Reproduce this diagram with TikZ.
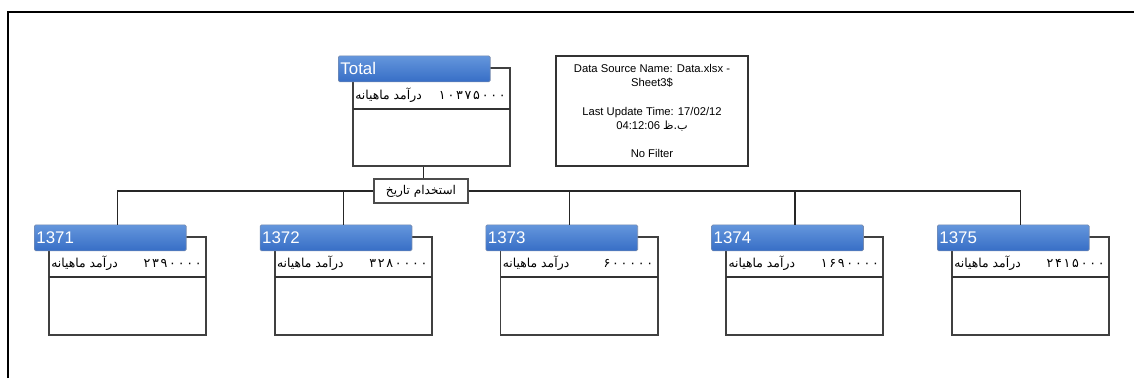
\documentclass[tikz,border=0pt]{standalone}
\usepackage{fontspec}
\setmainfont{Liberation Sans}
\newfontfamily\farsi[Script=Arabic]{DejaVu Sans}
\newfontfamily\farsinum[Script=Arabic,LetterSpace=14]{DejaVu Sans}
\TeXXeTstate=1
\usetikzlibrary{calc}
\definecolor{headtop}{RGB}{100,150,220}
\definecolor{headbot}{RGB}{55,110,198}
\definecolor{headline}{RGB}{120,140,175}

\begin{document}
\begin{tikzpicture}[x=0.025cm,y=-0.025cm,
  cardbox/.style={draw=black!75,line width=1.4pt,fill=white,anchor=north west,inner sep=0pt,
    minimum width=3.925cm,minimum height=2.45cm},
  cardhead/.style={draw=headline,line width=0.5pt,top color=headtop,bottom color=headbot,
    rounded corners=1pt,anchor=north west,inner xsep=1.5pt,inner ysep=0pt,
    text width=3.69cm,minimum height=0.65cm,align=left,text=white,font=\fontsize{12}{14}\selectfont},
  rowtext/.style={inner sep=0pt,font=\farsi\fontsize{8.8}{10}\selectfont},
  rownum/.style={inner sep=0pt,font=\farsinum\fontsize{9}{10}\selectfont},
  rowline/.style={line width=1.3pt,draw=black!80},
  link/.style={line width=1pt,draw=black!85},
  datebox/.style={draw=black!70,line width=1pt,fill=white,minimum width=2.35cm,minimum height=0.6cm,
    inner sep=0pt,font=\farsi\fontsize{8.6}{10}\selectfont},
  infobox/.style={draw=black!80,line width=1.4pt,minimum width=4.8cm,minimum height=2.75cm,
    align=center,font=\fontsize{8}{10}\selectfont}]
  \useasboundingbox (0,0) rectangle (1134,378);
  \draw[line width=1.8pt] (8,378) -- (8,12) -- (1134,12);

  \node[cardbox] (btot) at (352,67) {};
  \node[cardhead] (htot) at ($(btot.north west)+(-14,-11.5)$) {Total};
  \node[rowtext,anchor=west] (ltot) at ($(btot.north west)+(3,28)$) {\beginR درآمد ماهیانه\endR};
  \node[rownum,anchor=east] (ntot) at ($(btot.north east)+(-5,28)$) {۱۰۳۷۵۰۰۰};
  \draw[rowline] ($(btot.north west)+(1,42)$) -- ($(btot.north east)+(-1,42)$);

  \node[infobox] (info) at (652,111) {Data Source Name: Data.xlsx -\\Sheet3\$\\[10pt]
    Last Update Time: 17/02/12\\04:12:06 {\farsi\beginR ب.ظ\endR}\\[10pt]No Filter};

  \node[datebox] (tarikh) at (421,191) {\beginR استخدام تاریخ\endR};
  \coordinate (ttot) at ($(btot.south)+(-8,0)$);
  \draw[link] (ttot) -- (ttot |- tarikh.north);

  \foreach \yr/\num [count=\i from 0] in {1371/۲۳۹۰۰۰۰,1372/۳۲۸۰۰۰۰,1373/۶۰۰۰۰۰,1374/۱۶۹۰۰۰۰,1375/۲۴۱۵۰۰۰}{
    \node[cardbox] (b\yr) at (48+225.75*\i,236) {};
    \node[cardhead] (h\yr) at ($(b\yr.north west)+(-14,-11.5)$) {\yr};
    \node[rowtext,anchor=west] (l\yr) at ($(b\yr.north west)+(3,27)$) {\beginR درآمد ماهیانه\endR};
    \node[rownum,anchor=east] (n\yr) at ($(b\yr.north east)+(-5,27)$) {\num};
    \draw[rowline] ($(b\yr.north west)+(1,41)$) -- ($(b\yr.north east)+(-1,41)$);
    \coordinate (t\yr) at ($(h\yr.north)+(7.5,0)$);
    \draw[link] (tarikh) -| (t\yr);
  }
\end{tikzpicture}
\end{document}
